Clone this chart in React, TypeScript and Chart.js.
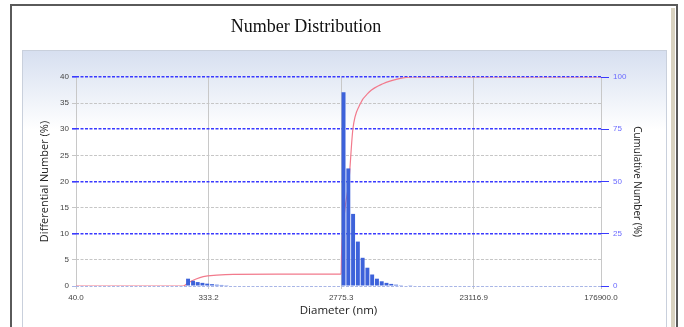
import React, { useEffect, useRef } from "react";
import { Chart, registerables } from "chart.js";

Chart.register(...registerables);

const titleText = "Number Distribution";

// X axis tick labels (nm)
const xTickValues = [40.0, 333.2, 2775.3, 23116.9, 176900.0];

// Small population (bin centres, nm) and differential number (%)
const bumpDiameters = [240, 260, 280, 302, 326, 352, 380, 410, 443, 478];
const bumpValues = [1.4, 1.0, 0.75, 0.6, 0.45, 0.35, 0.25, 0.2, 0.15, 0.1];

// Main population (bin centres, nm) and differential number (%)
const peakDiameters = [2883, 3112, 3359, 3625, 3912, 4222, 4557, 4919, 5309, 5730, 6184, 6674, 7203, 7775, 8391];
const peakValues = [37.1, 22.5, 13.8, 8.5, 5.4, 3.5, 2.2, 1.4, 0.9, 0.6, 0.4, 0.25, 0.15, 0.1, 0.05];

// Cumulative number curve (nm, %)
const cumDiameters = [40, 222, 240, 270, 306, 380, 495, 1000, 2687, 2775, 2790, 2820, 2950, 3140, 3347, 3722, 4346, 5412, 7030, 8520, 176900];
const cumValues = [0, 0, 1.5, 3.2, 4.5, 5.2, 5.6, 5.7, 5.7, 5.8, 14, 22, 37, 50, 75, 86.5, 92.8, 96.8, 99.2, 100, 100];

const framePlugin = {
  id: "frame",
  beforeDraw(chart: any) {
    const { ctx, width, height } = chart;
    ctx.save();
    ctx.fillStyle = "#ffffff";
    ctx.fillRect(0, 0, width, height);
    const g = ctx.createLinearGradient(0, 50, 0, 130);
    g.addColorStop(0, "#d6dff0");
    g.addColorStop(1, "#ffffff");
    ctx.fillStyle = g;
    ctx.fillRect(22, 50, 645, height - 50);
    ctx.strokeStyle = "#c9d0dc";
    ctx.lineWidth = 1;
    ctx.strokeRect(22.5, 50.5, 644, height);
    ctx.strokeStyle = "#d8d2c0";
    ctx.lineWidth = 4;
    ctx.beginPath();
    ctx.moveTo(673, 8);
    ctx.lineTo(673, height);
    ctx.stroke();
    ctx.strokeStyle = "#5a5a5a";
    ctx.lineWidth = 2;
    ctx.beginPath();
    ctx.moveTo(11, height);
    ctx.lineTo(11, 5);
    ctx.lineTo(677, 5);
    ctx.lineTo(677, height);
    ctx.stroke();
    // title
    ctx.fillStyle = "#111";
    ctx.font = "18px 'Liberation Serif'";
    ctx.textAlign = "center";
    ctx.textBaseline = "middle";
    ctx.fillText(titleText, 306, 27);
    ctx.restore();
  },
};

export default function App() {
  const ref = useRef<HTMLCanvasElement>(null);
  useEffect(() => {
    if (!ref.current) return;
    const barColor = "#3d62da";
    const chart = new Chart(ref.current, {
      type: "bar",
      data: {
        datasets: [
          {
            type: "bar",
            label: "Differential",
            data: bumpDiameters.map((d, i) => ({ x: d, y: bumpValues[i] })),
            backgroundColor: barColor,
            yAxisID: "y",
            barPercentage: 0.85,
            categoryPercentage: 1,
            grouped: false,
            order: 1,
          } as any,
          {
            type: "bar",
            label: "Differential2",
            data: peakDiameters.map((d, i) => ({ x: d, y: peakValues[i] })),
            backgroundColor: barColor,
            yAxisID: "y",
            barPercentage: 0.85,
            categoryPercentage: 1,
            grouped: false,
            order: 1,
          } as any,
          {
            type: "line",
            label: "Cumulative",
            data: cumDiameters.map((d, i) => ({ x: d, y: cumValues[i] })),
            borderColor: "#f27a8c",
            borderWidth: 1.2,
            pointRadius: 0,
            cubicInterpolationMode: "monotone",
            yAxisID: "y2",
            order: 2,
          } as any,
        ],
      },
      options: {
        animation: false,
        responsive: false,
        layout: { padding: { left: 38, right: 41, top: 77, bottom: 9 } },
        plugins: {
          legend: { display: false },
          tooltip: { enabled: false },
          title: { display: false },
        },
        scales: {
          x: {
            type: "logarithmic",
            min: 40,
            max: 176900,
            offset: false,
            afterBuildTicks: (scale: any) => {
              scale.ticks = xTickValues.map((v) => ({ value: v }));
            },
            afterFit: (scale: any) => {
              scale.height = 32;
            },
            ticks: {
              autoSkip: false,
              maxRotation: 0,
              color: "#444",
              font: { family: "Liberation Sans", size: 8 },
              padding: 4,
              callback: (v: any) => Number(v).toFixed(1),
            },
            grid: { offset: false, color: "#c8c8c8", lineWidth: 1, tickLength: 3 },
            border: { display: false },
            title: {
              display: true,
              text: "Diameter (nm)",
              color: "#222",
              font: { family: "Open Sans", size: 11.5 },
              padding: { top: 0, bottom: 0 },
            },
          },
          y: {
            position: "left",
            min: 0,
            max: 40,
            afterFit: (scale: any) => {
              scale.width = 38;
            },
            ticks: {
              stepSize: 5,
              color: "#444",
              font: { family: "Liberation Sans", size: 8 },
              padding: 3,
            },
            grid: {
              color: (c: any) =>
                c.tick.value === 0 ? "#a9b6e6" : c.tick.value % 10 === 0 ? "#3a3aff" : "#c6c6c6",
              lineWidth: (c: any) => (c.tick.value % 10 === 0 && c.tick.value !== 0 ? 1.6 : 1),
              tickLength: 4,
            },
            border: { display: false, dash: [3, 1.5] },
            title: {
              display: true,
              text: "Differential Number (%)",
              color: "#222",
              font: { family: "Open Sans", size: 11 },
              padding: { top: 0, bottom: 2 },
            },
          },
          y2: {
            position: "right",
            min: 0,
            max: 100,
            afterFit: (scale: any) => {
              scale.width = 42;
            },
            ticks: {
              stepSize: 25,
              color: "#6a6aff",
              font: { family: "Liberation Sans", size: 8 },
              padding: 4,
            },
            grid: { drawOnChartArea: false, color: "#3a3aff", tickLength: 8 },
            border: { display: false },
            title: {
              display: true,
              text: "Cumulative Number (%)",
              color: "#222",
              font: { family: "Open Sans", size: 10 },
              padding: { top: 0, bottom: 0 },
            },
          },
        },
      },
      plugins: [framePlugin],
    } as any);
    return () => chart.destroy();
  }, []);
  return (
    <div style={{ position: "fixed", left: 0, top: 0, width: 684, height: 327 }}>
      <canvas ref={ref} width={684} height={327} style={{ width: 684, height: 327 }} />
    </div>
  );
}
